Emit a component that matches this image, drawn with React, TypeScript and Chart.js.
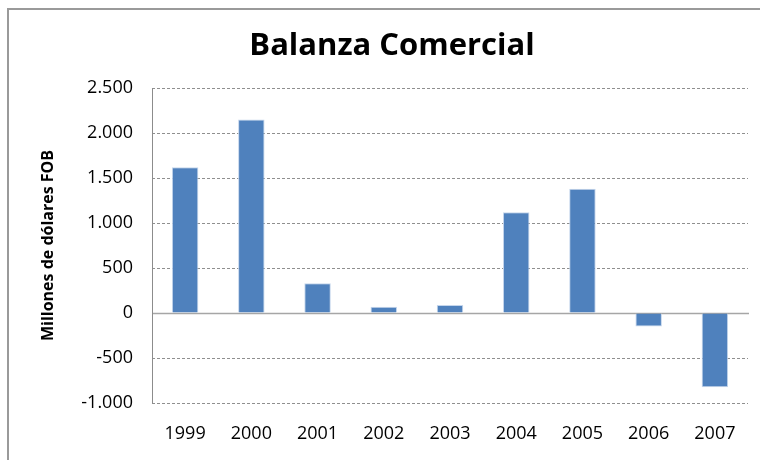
import React, { useEffect, useRef } from "react";
import { Chart, registerables } from "chart.js";

Chart.register(...registerables);

const categories = ["1999", "2000", "2001", "2002", "2003", "2004", "2005", "2006", "2007"];
const balanza = [1620, 2150, 330, 70, 90, 1120, 1380, -150, -825];
const yMin = -1000;
const yMax = 2500;
const yStep = 500;

const chartTitle = "Balanza Comercial";
const yAxisTitle = "Millones de dólares FOB";

function fmt(v: number): string {
  const neg = v < 0;
  const s = String(Math.abs(Math.round(v)));
  const withDots = s.replace(/\B(?=(\d{3})+(?!\d))/g, ".");
  return (neg ? "-" : "") + withDots;
}

const FONT = "'Open Sans', 'DejaVu Sans', sans-serif";

const axisLinesPlugin = {
  id: "axisLines",
  beforeDatasetsDraw(chart: any) {
    const { ctx, chartArea, scales } = chart;
    const y0 = Math.round(scales.y.getPixelForValue(0)) + 0.5;
    ctx.save();
    ctx.setLineDash([]);
    ctx.strokeStyle = "#a6a6a6";
    ctx.lineWidth = 1.5;
    ctx.beginPath();
    ctx.moveTo(chartArea.left, y0);
    ctx.lineTo(chartArea.right + 1, y0);
    ctx.stroke();
    ctx.strokeStyle = "#8c8c8c";
    ctx.lineWidth = 1;
    const x0 = Math.round(chartArea.left) + 0.5;
    ctx.beginPath();
    ctx.moveTo(x0, chartArea.top);
    ctx.lineTo(x0, chartArea.bottom);
    ctx.stroke();
    ctx.restore();
  },
};

export default function App() {
  const canvasRef = useRef<HTMLCanvasElement | null>(null);

  useEffect(() => {
    if (!canvasRef.current) return;
    const chart = new Chart(canvasRef.current, {
      type: "bar",
      data: {
        labels: categories,
        datasets: [
          {
            data: balanza,
            backgroundColor: "#4F81BD",
            borderColor: "#C5D6EC",
            borderWidth: 1,
            barPercentage: 0.4,
            categoryPercentage: 1.0,
          },
        ],
      },
      options: {
        animation: false,
        responsive: false,
        maintainAspectRatio: false,
        layout: { padding: { left: 36, right: 12, top: 0, bottom: 0 } },
        plugins: {
          legend: { display: false },
          tooltip: { enabled: false },
          title: {
            display: true,
            text: chartTitle,
            color: "#000",
            font: { family: FONT, size: 31, weight: "bold" },
            padding: { top: 27.4, bottom: 23.4 },
          },
        },
        scales: {
          x: {
            grid: { display: false, drawTicks: false },
            border: { display: false },
            ticks: {
              color: "#000",
              font: { family: FONT, size: 18 },
              padding: 20,
              maxRotation: 0,
            },
            afterFit(scale: any) {
              scale.height = 57;
            },
          },
          y: {
            min: yMin,
            max: yMax,
            grid: {
              drawTicks: false,
              color: (ctx: any) => (ctx.tick && ctx.tick.value === 0 ? "rgba(0,0,0,0)" : "#8f8f8f"),
              lineWidth: 1,
            },
            border: { display: false, dash: [3, 2] },
            ticks: {
              stepSize: yStep,
              color: "#000",
              font: { family: FONT, size: 18 },
              padding: 19,
              callback: (v: any) => fmt(Number(v)),
            },
            title: {
              display: true,
              text: yAxisTitle,
              color: "#000",
              font: { family: FONT, size: 16, weight: "bold" },
              padding: { top: 2.4, bottom: 0 },
            },
            afterFit(scale: any) {
              scale.width = 116;
            },
          },
        },
      },
      plugins: [axisLinesPlugin],
    } as any);
    return () => chart.destroy();
  }, []);

  return (
    <div style={{ position: "absolute", left: 0, top: 0, width: 760, height: 460, overflow: "hidden", background: "#fff" }}>
      <div
        style={{
          position: "absolute",
          left: 7,
          top: 8,
          width: 753,
          height: 452,
          borderTop: "2px solid #9a9a9a",
          borderLeft: "2px solid #9a9a9a",
          boxSizing: "border-box",
        }}
      />
      <canvas
        ref={canvasRef}
        width={760}
        height={460}
        style={{ position: "absolute", left: 0, top: 0, width: 760, height: 460 }}
      />
    </div>
  );
}
